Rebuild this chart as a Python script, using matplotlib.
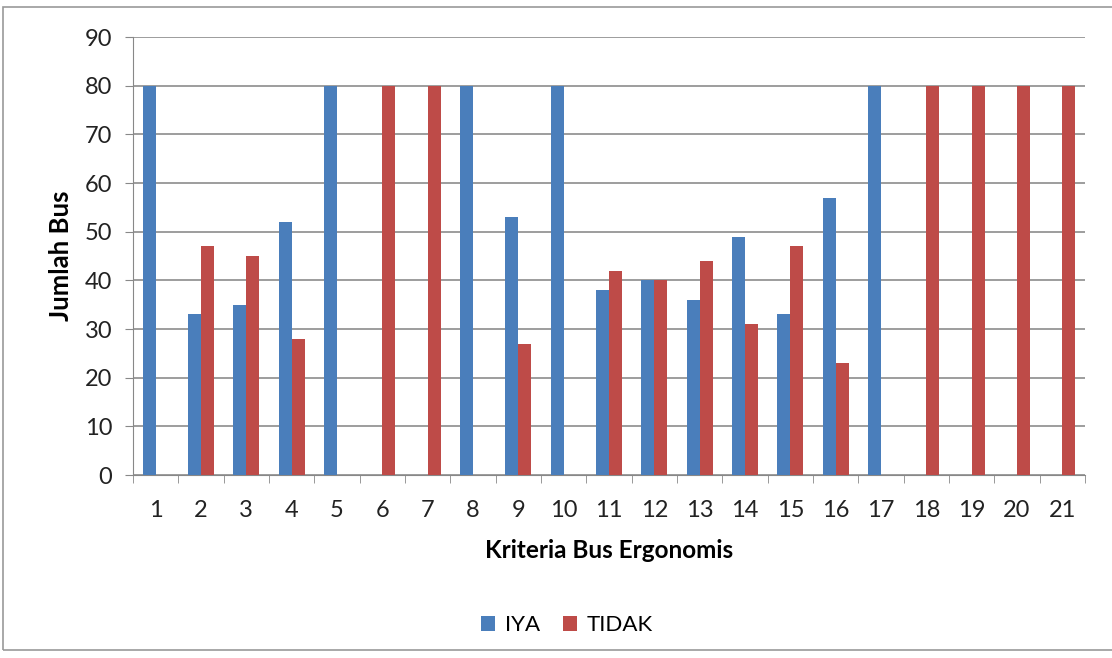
import matplotlib
matplotlib.use("Agg")
import matplotlib.pyplot as plt
import numpy as np
from matplotlib.patches import Rectangle

categories = [str(i) for i in range(1, 22)]
iya = [80, 33, 35, 52, 80, 0, 0, 80, 53, 80, 38, 40, 36, 49, 33, 57, 80, 0, 0, 0, 0]
tidak = [0, 47, 45, 28, 0, 80, 80, 0, 27, 0, 42, 40, 44, 31, 47, 23, 0, 80, 80, 80, 80]

plt.rcParams['font.family'] = ['Lato', 'DejaVu Sans']

fig = plt.figure(figsize=(11.12, 6.58), dpi=100)
ax = fig.add_axes([133/1112, 1-475/658, (1085-133)/1112, (475-37)/658])

x = np.arange(len(categories))
w = 0.29
blue = '#4a7ebb'
red = '#be4b48'
ax.bar(x - w/2, iya, w, color=blue, label='IYA', zorder=3)
ax.bar(x + w/2, tidak, w, color=red, label='TIDAK', zorder=3)

ax.set_xlim(-0.5, len(categories) - 0.5)
ax.set_ylim(0, 90)
ax.set_yticks(range(0, 91, 10))
ax.set_xticks(x)
ax.set_xticklabels(categories)
ax.set_xticks(np.arange(-0.5, len(categories), 1), minor=True)
ax.tick_params(axis='x', which='major', length=0, labelsize=17, pad=18, colors='#222222')
ax.tick_params(axis='x', which='minor', length=6, color='#888888')
ax.tick_params(axis='y', length=6, color='#888888', labelsize=17, colors='#222222', pad=9)
ax.yaxis.grid(True, color='#8c8c8c', linewidth=1.2, zorder=0)
for s in ['top', 'right']:
    ax.spines[s].set_visible(False)
for s in ['left', 'bottom']:
    ax.spines[s].set_color('#888888')

ax.set_xlabel('Kriteria Bus Ergonomis', fontsize=17.5, fontweight='bold', labelpad=13)
ax.set_ylabel('Jumlah Bus', fontsize=18.5, fontweight='bold', labelpad=8)

fig.legend(loc='center', bbox_to_anchor=(567/1112, 1-625/658), ncol=2, frameon=False,
           fontsize=16, handlelength=0.65, handleheight=0.65, handletextpad=0.45, columnspacing=1.0)

fig.patches.append(Rectangle((3/1112, 1-650/658), 1.0, (650-7)/658, transform=fig.transFigure,
                             fill=False, edgecolor='#999999', linewidth=1.2))

fig.savefig('out.png', dpi=100, facecolor='white')
